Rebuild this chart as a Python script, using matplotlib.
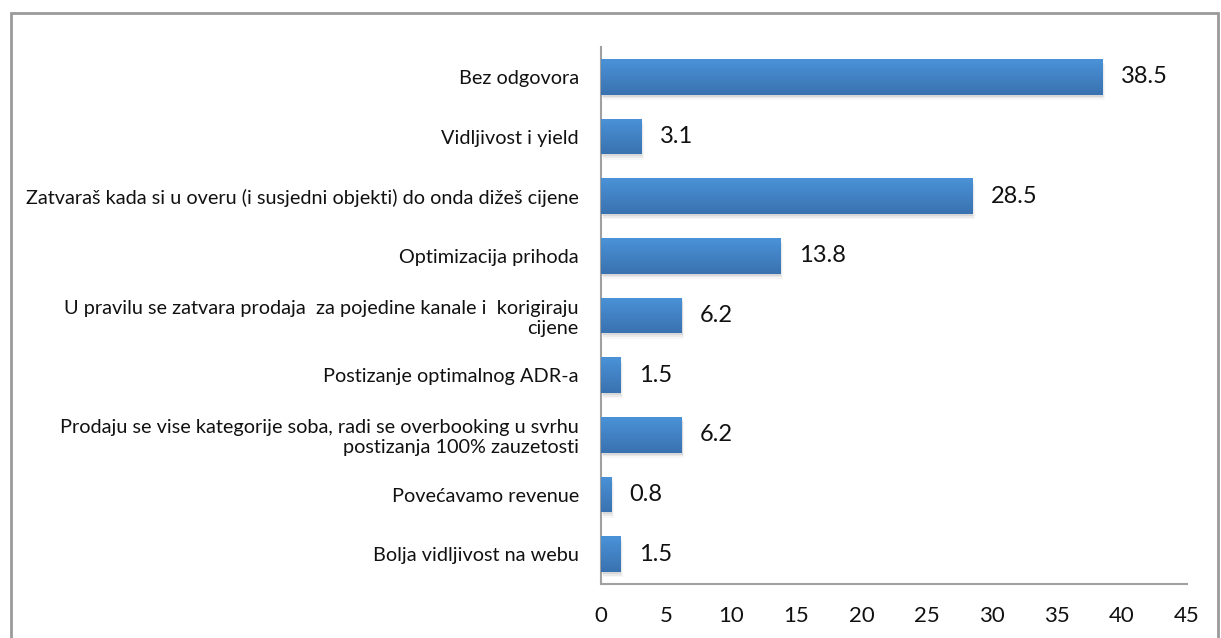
import matplotlib.pyplot as plt
import matplotlib.patches as patches
import numpy as np
from matplotlib.colors import LinearSegmentedColormap

plt.rcParams['font.family'] = ['Lato', 'DejaVu Sans']

# Data (top to bottom as in the chart)
categories = [
    "Bez odgovora",
    "Vidljivost i yield",
    "Zatvaraš kada si u overu (i susjedni objekti) do onda dižeš cijene",
    "Optimizacija prihoda",
    "U pravilu se zatvara prodaja  za pojedine kanale i  korigiraju\ncijene",
    "Postizanje optimalnog ADR-a",
    "Prodaju se vise kategorije soba, radi se overbooking u svrhu\npostizanja 100% zauzetosti",
    "Povećavamo revenue",
    "Bolja vidljivost na webu",
]
values = [38.5, 3.1, 28.5, 13.8, 6.2, 1.5, 6.2, 0.8, 1.5]
xticks = [0, 5, 10, 15, 20, 25, 30, 35, 40, 45]

fig = plt.figure(figsize=(12.21, 6.38), dpi=100)
ax = fig.add_axes([0.4922, 0.0846, 0.48, 0.8417])

pos = np.arange(len(categories))[::-1]
bar_h = 0.6

# soft shadow under the bars
for off, a in [(0.03, 0.08), (0.06, 0.05), (0.09, 0.03)]:
    ax.barh(pos - off, values, height=bar_h, left=off * 2, color='#000000', alpha=a,
            edgecolor='none', zorder=1)
bars = ax.barh(pos, values, height=bar_h, color='#4487cf', edgecolor='none', zorder=2)

# vertical gradient inside each bar
grad = np.linspace(0, 1, 64).reshape(-1, 1)
cmap = LinearSegmentedColormap.from_list('barg', ['#3a72b0', '#4a92d8'])
for b in bars:
    x0, y0 = b.get_x(), b.get_y()
    w, h = b.get_width(), b.get_height()
    im = ax.imshow(grad, cmap=cmap, aspect='auto', origin='lower',
                   extent=(x0, x0 + w, y0, y0 + h), zorder=3)
    im.set_clip_path(b)

for p, v in zip(pos, values):
    ax.text(v + 1.4, p, f"{v:.1f}", va='center', ha='left', fontsize=17, color='#111111')

ax.set_xlim(0, 45)
ax.set_ylim(-0.5, len(categories) - 0.5)
ax.set_xticks(xticks)
ax.set_xticklabels([str(t) for t in xticks], fontsize=16, color='#111111')
ax.set_yticks(pos)
ax.set_yticklabels(categories, fontsize=14.3, color='#111111', ha='right')
ax.tick_params(axis='both', length=0)
ax.tick_params(axis='x', pad=16)
ax.tick_params(axis='y', pad=16)
for lab in ax.get_yticklabels():
    lab.set_multialignment('right')

for s in ['top', 'right']:
    ax.spines[s].set_visible(False)
for s in ['left', 'bottom']:
    ax.spines[s].set_color('#a0a0a0')
    ax.spines[s].set_linewidth(1.5)

# outer chart frame
frame = patches.Rectangle((11 / 1221, -0.05), (1218 - 11) / 1221, 1.05 - 13 / 638,
                          transform=fig.transFigure, fill=False,
                          edgecolor='#9a9a9a', linewidth=2, clip_on=False)
fig.patches.append(frame)

fig.savefig('out.png', dpi=100)
